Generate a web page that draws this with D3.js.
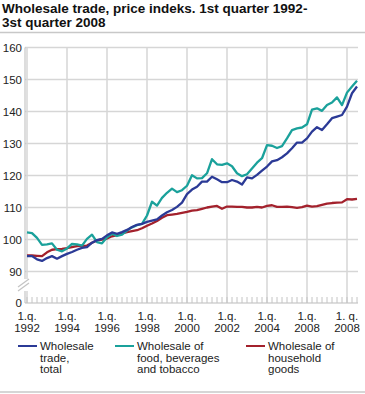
<!DOCTYPE html>
<html><head><meta charset="utf-8">
<script src="https://cdn.jsdelivr.net/npm/d3@7"></script>
<style>
body{margin:0;background:#fff;}
svg{display:block;font-family:"Liberation Sans",Arial,sans-serif;}
</style></head><body>
<svg id="c" width="365" height="394"></svg>
<script>
const title = ["Wholesale trade, price indeks. 1st quarter 1992-", "3st quarter 2008"];
const quarters = d3.range(67).map(i => ({year: 1992 + Math.floor(i/4), q: i%4 + 1}));
const total = [94.8,94.8,93.8,93.3,94.2,94.8,94.0,94.8,95.5,96.1,96.8,97.4,97.6,99.0,99.8,100.2,
101.3,102.2,101.8,102.3,103.0,103.9,104.6,104.9,105.5,105.9,106.3,107.5,108.5,109.2,110.2,111.5,
114.2,115.6,116.5,118.1,118.1,119.6,118.8,117.9,117.9,118.6,118.1,117.2,119.4,119.1,120.2,121.5,
122.8,124.4,124.8,125.7,126.9,128.5,130.3,130.3,131.6,133.7,135.1,134.2,136.0,137.9,138.4,138.9,
141.5,145.7,147.8];
const food = [102.2,102.0,100.5,98.3,98.5,98.8,96.8,96.3,97.2,98.6,98.5,98.1,100.2,101.5,99.2,98.8,
100.7,101.8,101.1,101.5,102.8,103.8,104.5,104.9,107.5,111.8,110.6,113.0,114.6,115.9,114.8,115.4,
116.8,120.1,119.1,119.2,120.7,125.1,123.5,123.3,123.8,122.9,120.7,119.8,120.4,122.2,124.0,125.4,
129.5,129.3,128.6,129.2,131.6,134.2,134.7,135.0,136.0,140.6,141.0,140.2,142.0,142.8,144.4,142.0,
145.9,147.8,149.6];
const household = [95.0,95.0,94.9,94.8,96.0,96.8,97.0,97.1,97.3,97.6,97.9,98.0,98.1,99.0,99.7,100.0,
100.3,101.0,101.4,101.9,102.3,102.6,102.9,103.5,104.3,105.0,105.8,106.8,107.6,107.8,108.0,108.3,
108.6,109.0,109.2,109.6,110.0,110.3,110.5,109.6,110.3,110.3,110.2,110.2,110.0,110.0,110.2,110.0,
110.5,110.7,110.2,110.2,110.3,110.1,109.9,110.1,110.6,110.3,110.4,110.8,111.2,111.4,111.5,111.6,
112.6,112.5,112.7];
const yTicks = [0,90,100,110,120,130,140,150,160];
const xTickLabels = [["1.q.","1992"],["1.q.","1994"],["1.q.","1996"],["1.q.","1998"],["1.q.","2000"],["1.q.","2002"],["1.q.","2004"],["1.q.","2008"],["1. q.","2008"]];
const seriesNames = [["Wholesale","trade,","total"],["Wholesale of","food, beverages","and tobacco"],["Wholesale of","household","goods"]];
const colors = ["#2b3a96","#1aa19b","#a3212c"];
const seriesData = [total, food, household];

const svg = d3.select("#c");
const x = d3.scaleLinear().domain([0, 66]).range([27, 357]);
const y = d3.scaleLinear().domain([0, 90, 160]).range([303, 271.5, 47.5]);
const grid = "#d6d6d6";

// title
svg.append("g").selectAll("text").data(title).join("text")
  .attr("x", 2).attr("y", (d,i) => 13 + i*13.7)
  .attr("font-size", 13.5).attr("font-weight", "bold").attr("fill", "#111").text(d => d);
svg.append("line").attr("x1",0).attr("x2",365).attr("y1",32.5).attr("y2",32.5).attr("stroke","#c8c8c8").attr("stroke-width",1.5);

// horizontal gridlines
svg.append("g").selectAll("line").data(yTicks.filter(d => d > 0)).join("line")
  .attr("x1", 25).attr("x2", 358).attr("y1", d => y(d)).attr("y2", d => y(d))
  .attr("stroke", grid).attr("stroke-width", 1.5);
// vertical gridlines every 8 quarters
const majors = d3.range(0, 67, 8);
svg.append("g").selectAll("line").data(majors).join("line")
  .attr("x1", d => x(d)).attr("x2", d => x(d)).attr("y1", y(160)).attr("y2", y(0))
  .attr("stroke", grid).attr("stroke-width", 1.5);
// left axis line with break
svg.append("line").attr("x1",25).attr("x2",25).attr("y1",y(160)).attr("y2",279).attr("stroke","#bbb").attr("stroke-width",1);
svg.append("line").attr("x1",25).attr("x2",25).attr("y1",291).attr("y2",y(0)).attr("stroke","#bbb").attr("stroke-width",1);
svg.append("rect").attr("x",23).attr("y",279).attr("width",6).attr("height",12).attr("fill","#fff");
[0,4].forEach(o => svg.append("line").attr("x1",18).attr("y1",287+o).attr("x2",29).attr("y2",279+o)
  .attr("stroke","#c4c4c4").attr("stroke-width",1.2));
// x axis baseline + quarterly ticks
svg.append("line").attr("x1",25).attr("x2",358).attr("y1",y(0)).attr("y2",y(0)).attr("stroke","#bbb").attr("stroke-width",1.2);
svg.append("g").selectAll("line").data(quarters.map((d,i)=>i)).join("line")
  .attr("x1", d => x(d)).attr("x2", d => x(d)).attr("y1", y(0)-6).attr("y2", y(0))
  .attr("stroke", "#c4c4c4").attr("stroke-width", 1);

// y labels
svg.append("g").selectAll("text").data(yTicks).join("text")
  .attr("x", 22).attr("y", d => y(d) + 4).attr("text-anchor", "end")
  .attr("font-size", 11.5).attr("fill", "#222").text(d => d);
// x labels
const xl = svg.append("g").selectAll("g").data(xTickLabels).join("g")
  .attr("transform", (d,i) => `translate(${x(majors[i])},0)`);
xl.append("text").attr("y", 320).attr("text-anchor","middle").attr("font-size",11.5).attr("fill","#222").text(d=>d[0]);
xl.append("text").attr("y", 331.5).attr("text-anchor","middle").attr("font-size",11.5).attr("fill","#222").text(d=>d[1]);

// lines
const line = d3.line().x((d,i) => x(i)).y(d => y(d));
svg.append("g").selectAll("path").data([2,1,0]).join("path")
  .attr("d", k => line(seriesData[k])).attr("fill","none")
  .attr("stroke", k => colors[k]).attr("stroke-width", 2.3).attr("stroke-linejoin","round");

// legend
const lx = [18, 115, 246];
const lg = svg.append("g").selectAll("g").data(seriesNames).join("g")
  .attr("transform", (d,i) => `translate(${lx[i]},346)`);
lg.append("line").attr("x1",0).attr("x2",19).attr("y1",0).attr("y2",0)
  .attr("stroke",(d,i)=>colors[i]).attr("stroke-width",2);
lg.each(function(d){
  d3.select(this).selectAll("text").data(d).join("text")
    .attr("x", 22).attr("y", (t,j) => 4 + j*11.5).attr("font-size", 11.5).attr("fill","#222").text(t=>t);
});
svg.append("line").attr("x1",0).attr("x2",365).attr("y1",392).attr("y2",392).attr("stroke","#c8c8c8").attr("stroke-width",1.5);
</script>
</body></html>
